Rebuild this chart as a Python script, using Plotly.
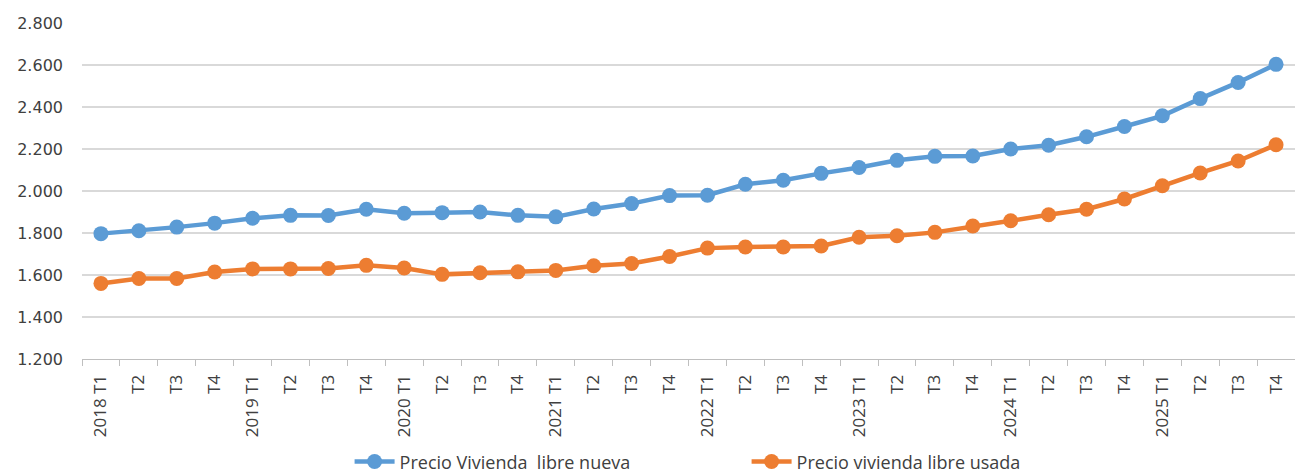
import plotly.graph_objects as go

years = ["2018", "2019", "2020", "2021", "2022", "2023", "2024", "2025"]
quarters = ["T1", "T2", "T3", "T4"]
categories = [f"{y} {q}" if q == "T1" else f"{q}_{y}" for y in years for q in quarters]
tick_labels = [f"{y} T1" if q == "T1" else q for y in years for q in quarters]

nueva = [1797, 1811, 1828, 1847, 1870, 1884, 1883, 1913, 1894, 1897,
         1900, 1884, 1877, 1914, 1940, 1978, 1980, 2032, 2051, 2084,
         2112, 2146, 2165, 2167, 2200, 2218, 2258, 2307, 2358, 2440,
         2517, 2603]
usada = [1560, 1583, 1583, 1614, 1629, 1629, 1631, 1646, 1633, 1603,
         1611, 1615, 1622, 1644, 1655, 1688, 1728, 1733, 1733, 1738,
         1780, 1787, 1803, 1833, 1858, 1887, 1913, 1962, 2025, 2086,
         2143, 2220]

name_nueva = "Precio Vivienda  libre nueva"
name_usada = "Precio vivienda libre usada"

fig = go.Figure()
fig.add_trace(go.Scatter(x=categories, y=nueva, name=name_nueva, mode="lines+markers",
                         line=dict(color="#5B9BD5", width=4.5),
                         marker=dict(color="#5B9BD5", size=15), cliponaxis=False))
fig.add_trace(go.Scatter(x=categories, y=usada, name=name_usada, mode="lines+markers",
                         line=dict(color="#ED7D31", width=4.5),
                         marker=dict(color="#ED7D31", size=15), cliponaxis=False))

fig.update_layout(
    width=1295, height=475,
    margin=dict(l=82, r=0, t=23, b=116, autoexpand=False),
    plot_bgcolor="white", paper_bgcolor="white",
    font=dict(family="Open Sans", size=15, color="#404040"),
    hovermode=False,
    legend=dict(orientation="h", x=0.2206, xanchor="left", y=-0.306, yanchor="middle",
                font=dict(family="Open Sans", size=18, color="#404040"),
                entrywidth=342, itemwidth=40, tracegroupgap=0),
    xaxis=dict(type="category", tickmode="array", tickvals=categories, ticktext=tick_labels,
               tickangle=-90, tickson="boundaries", ticks="outside", ticklen=6,
               tickcolor="#BFBFBF", showline=True, linecolor="#BFBFBF", linewidth=1,
               showgrid=False, automargin=False, ticklabelstandoff=8,
               tickfont=dict(family="Open Sans", size=17, color="#404040"),
               range=[-0.5, len(categories) - 0.5]),
    yaxis=dict(range=[1200, 2800], dtick=200, tickformat=",d", showgrid=True,
               gridcolor="#D9D9D9", gridwidth=1.5, zeroline=False, showline=False,
               ticks="", automargin=False, ticklabelstandoff=18,
               tickfont=dict(family="DejaVu Sans", size=16, color="#404040")),
    separators=",.",
)

fig.write_html("out.html",
               config={"displayModeBar": False, "staticPlot": True},
               post_script="document.body.style.margin='0';document.body.style.overflow='hidden';")
